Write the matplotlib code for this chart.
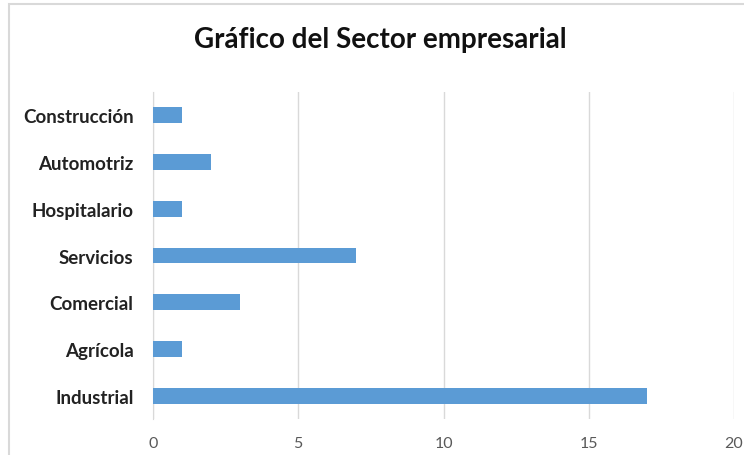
import matplotlib
matplotlib.use("Agg")
import matplotlib.pyplot as plt
from matplotlib.patches import Rectangle

sectores = ["Industrial", "Agrícola", "Comercial", "Servicios", "Hospitalario", "Automotriz", "Construcción"]
valores = [17, 1, 3, 7, 1, 2, 1]
ticks_x = [0, 5, 10, 15, 20]

plt.rcParams['font.family'] = ['Lato', 'DejaVu Sans']

fig = plt.figure(figsize=(7.44, 4.56), dpi=100)
ax = fig.add_axes([153 / 744, 1 - 420 / 456, (734 - 153) / 744, (420 - 93) / 456])

ax.barh(range(len(sectores)), valores, height=0.34, color="#5B9BD5", zorder=3)
ax.set_ylim(-0.5, len(sectores) - 0.5)
ax.set_xlim(0, 20)
ax.set_xticks(ticks_x)
ax.set_yticks(range(len(sectores)))
ax.set_yticklabels(sectores, fontsize=13.5, fontweight="bold", color="#222222")
ax.tick_params(axis="y", length=0, pad=14)
ax.tick_params(axis="x", length=0, pad=12, labelsize=11.5, labelcolor="#595959")
ax.grid(axis="x", color="#D9D9D9", linewidth=1, zorder=0)
for s in ["top", "right", "bottom"]:
    ax.spines[s].set_visible(False)
ax.spines["left"].set_color("#D9D9D9")

fig.text(0.511, 1 - 40 / 456, "Gráfico del Sector empresarial",
         fontsize=20, fontweight="bold", ha="center", va="center", color="#111111")

fig.patches.append(Rectangle((9 / 744, -0.1), 1.2, 1 - 5 / 456 + 0.1, transform=fig.transFigure,
                             fill=False, edgecolor="#D9D9D9", linewidth=1.5))

fig.savefig("out.png", dpi=100)
